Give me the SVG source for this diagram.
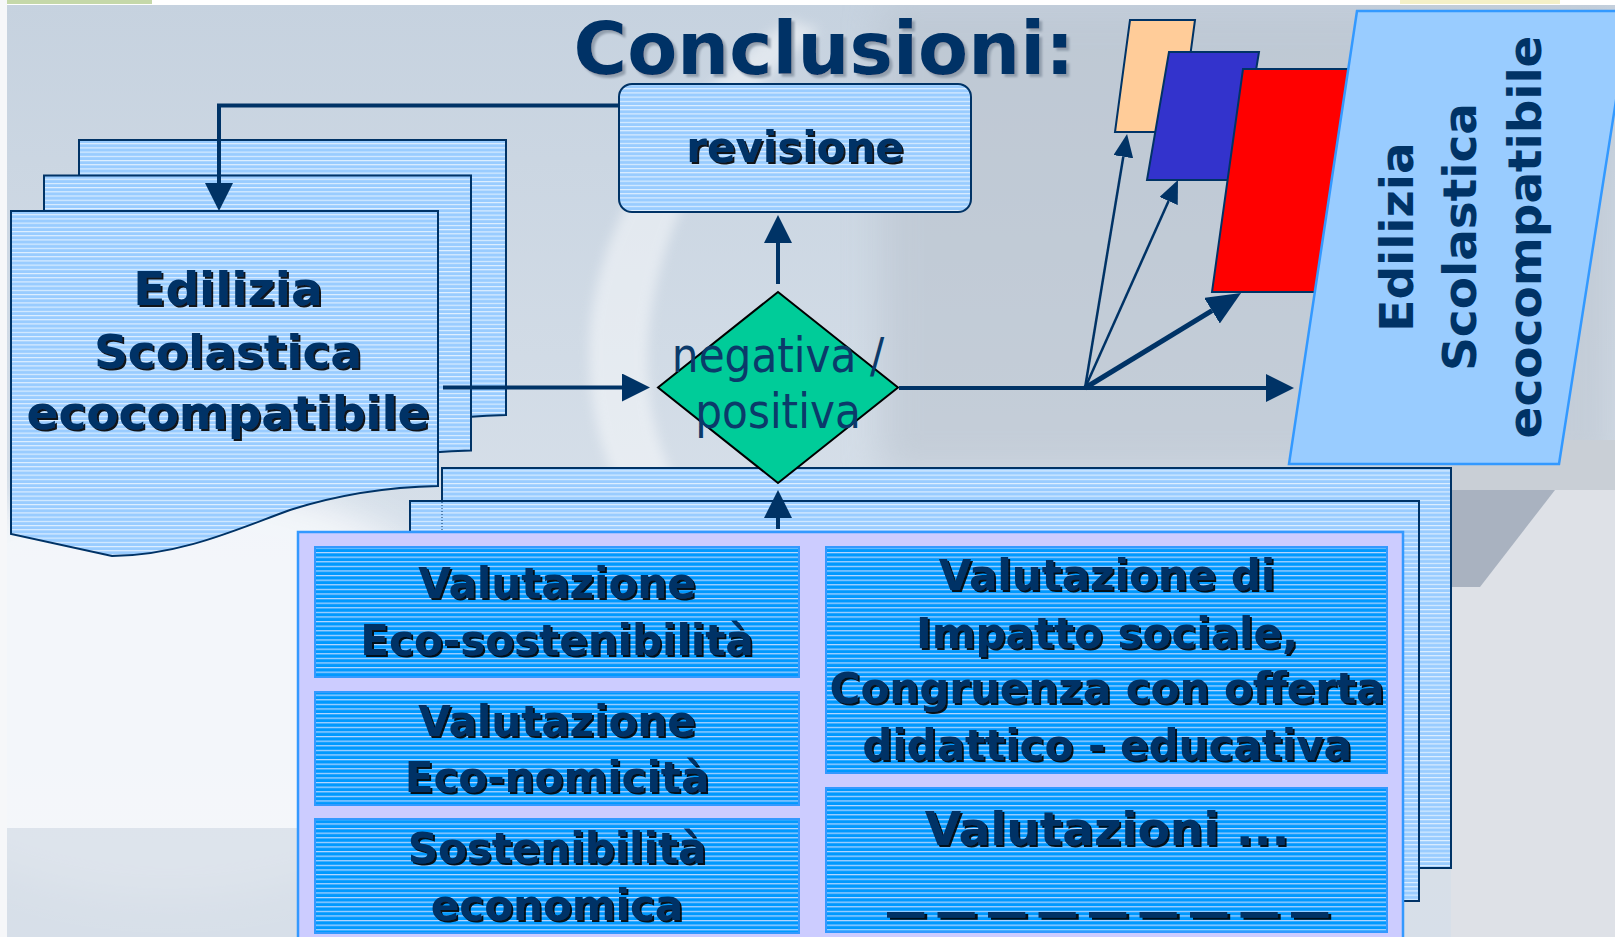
<svg xmlns="http://www.w3.org/2000/svg" width="1615" height="937" viewBox="0 0 1615 937">
<defs>
<style>
.bt{font-family:"DejaVu Sans","Liberation Sans",sans-serif;font-weight:bold;fill:#003366;text-anchor:middle;filter:url(#sh)}
.bx{font-size:42px}
.conn{fill:none;stroke:#003366;stroke-width:4}
.doc{fill:url(#stL);stroke:#003366;stroke-width:2}
.ibox{fill:url(#stD);stroke:#3399FF;stroke-width:2}
</style>
<pattern id="stL" patternUnits="userSpaceOnUse" width="10" height="4.2">
<rect width="10" height="4.2" fill="#99CCFF"/>
<rect y="0" width="10" height="1.1" fill="#FFFFFF" opacity="0.7"/>
</pattern>
<pattern id="stD" patternUnits="userSpaceOnUse" width="10" height="4.6">
<rect width="10" height="4.6" fill="#0099FF"/>
<rect y="0" width="10" height="1.2" fill="#D8E2FF" opacity="0.85"/>
</pattern>
<filter id="sh" x="-5%" y="-20%" width="115%" height="150%">
<feDropShadow dx="2" dy="2" stdDeviation="0.3" flood-color="#000000" flood-opacity="0.9"/>
</filter>
<filter id="tsh" x="-5%" y="-20%" width="115%" height="150%">
<feDropShadow dx="3" dy="3" stdDeviation="0.8" flood-color="#8C99A8" flood-opacity="0.9"/>
</filter>
<filter id="blur" x="-20%" y="-20%" width="140%" height="140%"><feGaussianBlur stdDeviation="18"/></filter>
<filter id="blur2" x="-20%" y="-20%" width="140%" height="140%"><feGaussianBlur stdDeviation="6"/></filter>
<linearGradient id="bg" x1="0" y1="0" x2="0" y2="1">
<stop offset="0" stop-color="#C6D2DF"/>
<stop offset="0.55" stop-color="#D6DFE9"/>
<stop offset="1" stop-color="#E2E8F0"/>
</linearGradient>
<marker id="ah" markerUnits="userSpaceOnUse" viewBox="0 0 28 28" markerWidth="28" markerHeight="28" refX="0" refY="14" orient="auto"><path d="M0,0 L28,14 L0,28 Z" fill="#003366"/></marker>
<marker id="ahs" markerUnits="userSpaceOnUse" viewBox="0 0 23 20" markerWidth="23" markerHeight="20" refX="0" refY="10" orient="auto"><path d="M0,0 L23,10 L0,20 Z" fill="#003366"/></marker>
<marker id="ahl" markerUnits="userSpaceOnUse" viewBox="0 0 34 30" markerWidth="34" markerHeight="30" refX="0" refY="15" orient="auto"><path d="M0,0 L34,15 L0,30 Z" fill="#003366"/></marker>
</defs>

<g id="background">
<rect width="1615" height="937" fill="url(#bg)"/>
<rect x="880" y="5" width="735" height="470" fill="#B8C1CC" opacity="0.55" filter="url(#blur)"/>
<ellipse cx="170" cy="690" rx="330" ry="210" fill="#F8FAFD" opacity="0.85" filter="url(#blur)"/>
<path d="M790,20 C700,80 600,200 590,330 C585,420 610,480 640,520 L700,520 C660,470 640,400 650,320 C665,200 740,90 820,30 Z" fill="#FFFFFF" opacity="0.45" filter="url(#blur2)"/>
<rect x="0" y="828" width="1615" height="109" fill="#D3DBE5" opacity="0.7"/>
<rect x="1451" y="470" width="164" height="467" fill="#DEE1E7"/>
<path d="M1451,490 L1555,490 L1480,587 L1451,587 Z" fill="#A9B2C0"/>
<rect x="1451" y="440" width="164" height="50" fill="#C9CFD6"/>
<rect x="0" y="0" width="1615" height="5" fill="#FFFFFF"/>
<rect x="0" y="0" width="152" height="4" fill="#C5D8A9"/>
<rect x="1400" y="0" width="160" height="4" fill="#F4F0C8"/>
<rect x="0" y="0" width="7" height="937" fill="#F6F7F9"/>
</g>

<g id="title">
<text x="824" y="74" class="bt" style="font-size:73px;filter:url(#tsh)">Conclusioni:</text>
</g>

<g id="doc-stack">
<path class="doc" transform="translate(68,-71)" d="M11,211 L438,211 L438,486 C390,487 340,494 290,510 C240,528 180,556 112,556 L11,534 Z"/>
<path class="doc" transform="translate(33,-35.5)" d="M11,211 L438,211 L438,486 C390,487 340,494 290,510 C240,528 180,556 112,556 L11,534 Z"/>
<path class="doc" d="M11,211 L438,211 L438,486 C390,487 340,494 290,510 C240,528 180,556 112,556 L11,534 Z"/>
<text class="bt" x="228" y="305" style="font-size:47px">Edilizia</text>
<text class="bt" x="228" y="368" style="font-size:47px">Scolastica</text>
<text class="bt" x="228" y="429" style="font-size:47px">ecocompatibile</text>
</g>

<g id="revisione">
<rect x="619" y="84" width="352" height="128" rx="13" fill="url(#stL)" stroke="#003366" stroke-width="2"/>
<text class="bt bx" x="795" y="162">revisione</text>
</g>

<g id="valutazioni-stack">
<rect x="442" y="468" width="1009" height="400" fill="url(#stL)" stroke="#003366" stroke-width="2"/>
<rect x="410" y="501" width="1009" height="400" fill="url(#stL)" stroke="#003366" stroke-width="2"/>
<line x1="442" y1="502" x2="442" y2="531" stroke="#003366" stroke-width="1" stroke-dasharray="1,2"/>
<rect x="298" y="532" width="1105" height="420" fill="#CCCCFF" stroke="#3399FF" stroke-width="2.5"/>
</g>

<g id="box-eco-sostenibilita">
<rect class="ibox" x="315" y="547" width="484" height="130"/>
<text class="bt bx" x="557" y="598">Valutazione</text>
<text class="bt bx" x="557" y="655">Eco-sostenibilità</text>
</g>
<g id="box-eco-nomicita">
<rect class="ibox" x="315" y="692" width="484" height="113"/>
<text class="bt bx" x="557" y="736">Valutazione</text>
<text class="bt bx" x="557" y="792">Eco-nomicità</text>
</g>
<g id="box-sostenibilita">
<rect class="ibox" x="315" y="819" width="484" height="114"/>
<text class="bt bx" x="557" y="863">Sostenibilità</text>
<text class="bt bx" x="557" y="920">economica</text>
</g>
<g id="box-impatto">
<rect class="ibox" x="826" y="547" width="561" height="226"/>
<text class="bt bx" x="1107" y="590">Valutazione di</text>
<text class="bt bx" x="1107" y="648">Impatto sociale,</text>
<text class="bt bx" x="1107" y="703">Congruenza con offerta</text>
<text class="bt bx" x="1107" y="760">didattico - educativa</text>
</g>
<g id="box-valutazioni">
<rect class="ibox" x="826" y="788" width="561" height="144"/>
<text class="bt" x="1107" y="845" style="font-size:47px">Valutazioni ...</text>
<text class="bt" x="0" y="0" transform="translate(888,906) scale(1.5,1)" style="font-size:47px;text-anchor:start;letter-spacing:-3.1px;stroke:#003366;stroke-width:1.3px">_ _ _ _ _ _ _ _ _</text>
</g>

<g id="decision">
<polygon points="778,292 898,387.5 778,483 658,387.5" fill="#00CC99" stroke="#000000" stroke-width="2"/>
<text x="0" y="372" transform="translate(778,0) scale(0.88,1)" style="font-family:'DejaVu Sans','Liberation Sans',sans-serif;font-size:48px;fill:#0B3A6A;text-anchor:middle">negativa /</text>
<text x="0" y="428" transform="translate(778,0) scale(0.88,1)" style="font-family:'DejaVu Sans','Liberation Sans',sans-serif;font-size:48px;fill:#0B3A6A;text-anchor:middle">positiva</text>
</g>

<g id="peach-card">
<polygon points="1130,20 1195,20 1180,132 1115,132" fill="#FFCC99" stroke="#003366" stroke-width="2"/>
</g>
<g id="blue-card">
<polygon points="1169,52 1259,52 1238,180 1147,180" fill="#3333CC" stroke="#003366" stroke-width="2"/>
</g>
<g id="red-card">
<polygon points="1243,69 1362,69 1331,292 1212,292" fill="#FF0000" stroke="#003366" stroke-width="2"/>
</g>

<g id="result">
<polygon points="1357,11 1630,11 1559,464 1289,464" fill="#99CCFF" stroke="#3399FF" stroke-width="2.5"/>
<text class="bt" transform="translate(1413,237) rotate(-90)" x="0" y="0" style="font-size:47px;filter:none">Edilizia</text>
<text class="bt" transform="translate(1476,237) rotate(-90)" x="0" y="0" style="font-size:47px;filter:none">Scolastica</text>
<text class="bt" transform="translate(1541,237) rotate(-90)" x="0" y="0" style="font-size:47px;filter:none">ecocompatibile</text>
</g>

<g id="connectors">
<path class="conn" d="M619,105.5 H219 V183" marker-end="url(#ah)"/>
<path class="conn" d="M443,387.5 H622" marker-end="url(#ah)"/>
<path class="conn" d="M778,284 V243" marker-end="url(#ah)"/>
<path class="conn" d="M778,529 V518" marker-end="url(#ah)"/>
<path class="conn" d="M899,388 H1266" marker-end="url(#ah)"/>
<path class="conn" style="stroke-width:2.5" d="M1085,388 L1123.3,156.7" marker-end="url(#ahs)"/>
<path class="conn" style="stroke-width:2.5" d="M1085,388 L1168.6,201" marker-end="url(#ahs)"/>
<path class="conn" style="stroke-width:5" d="M1085,388 L1212,310.7" marker-end="url(#ahl)"/>
</g>
</svg>
